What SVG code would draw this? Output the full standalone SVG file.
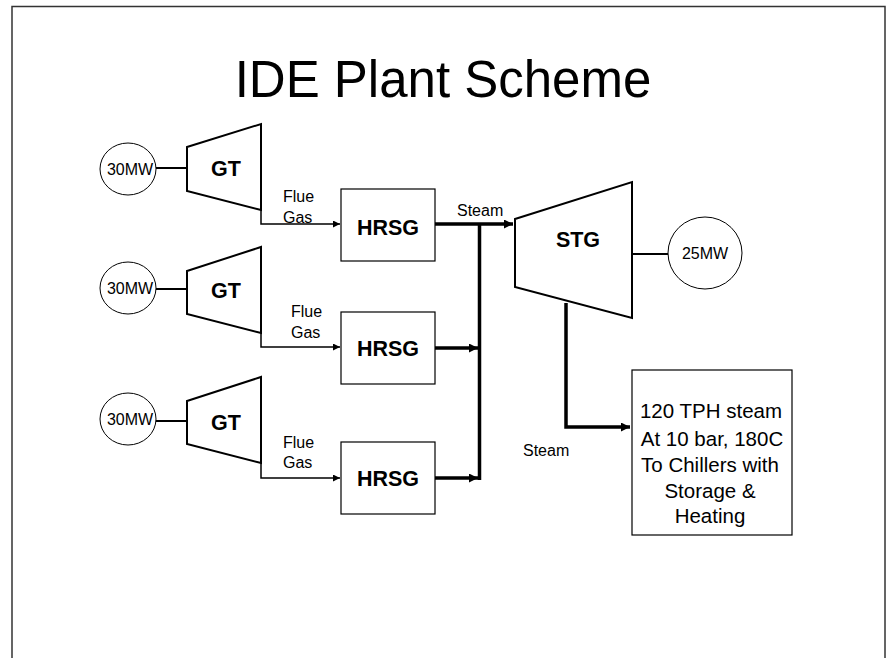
<svg xmlns="http://www.w3.org/2000/svg" width="888" height="658" viewBox="0 0 888 658">
<defs>
<style>
text{font-family:"Liberation Sans",Arial,sans-serif;fill:#000}
.title{font-size:51px;text-anchor:middle}
.bold{font-size:21.5px;font-weight:bold;text-anchor:middle}
.lbl{font-size:16px}
.mw{font-size:16px;text-anchor:middle}
.box{font-size:20.5px;text-anchor:middle}
.gen{fill:#fff;stroke:#000;stroke-width:1}
.turb{fill:#fff;stroke:#000;stroke-width:2}
.rect{fill:#fff;stroke:#000;stroke-width:1.2}
.thin{fill:none;stroke:#000;stroke-width:1.5}
.thick{fill:none;stroke:#000;stroke-width:3.5}
.shaft{fill:none;stroke:#000;stroke-width:2}
</style>
<marker id="ah" viewBox="0 0 10 10" refX="10" refY="5" markerWidth="9" markerHeight="7" markerUnits="userSpaceOnUse" orient="auto"><path d="M0,0L10,5L0,10z" fill="#000"/></marker>
<marker id="ahb" viewBox="0 0 10 10" refX="10" refY="5" markerWidth="10" markerHeight="9" markerUnits="userSpaceOnUse" orient="auto"><path d="M0,0L10,5L0,10z" fill="#000"/></marker>
</defs>
<rect x="12" y="6.5" width="873" height="700" fill="#fff" stroke="#333" stroke-width="1.5"/>
<text class="title" x="443" y="97">IDE Plant Scheme</text>

<g id="connectors">
<line class="shaft" x1="156" y1="168" x2="187" y2="168"/>
<line class="shaft" x1="156" y1="289" x2="187" y2="289"/>
<line class="shaft" x1="156" y1="421" x2="187" y2="421"/>
<polyline class="thin" points="261,210 261,224 340,224" marker-end="url(#ah)"/>
<polyline class="thin" points="261,333 261,347 340,347" marker-end="url(#ah)"/>
<polyline class="thin" points="261,463 261,478 340,478" marker-end="url(#ah)"/>
<line class="thick" x1="435" y1="224" x2="513" y2="224" marker-end="url(#ahb)"/>
<line class="thick" x1="435" y1="348" x2="478" y2="348" marker-end="url(#ahb)"/>
<line class="thick" x1="435" y1="478" x2="478" y2="478" marker-end="url(#ahb)"/>
<line class="thick" x1="479.5" y1="224" x2="479.5" y2="480"/>
<line class="shaft" x1="632" y1="254" x2="668" y2="254"/>
<polyline class="thick" points="566,303 566,427 630,427" marker-end="url(#ahb)"/>
<text class="lbl" x="283" y="202">Flue</text>
<text class="lbl" x="283" y="223">Gas</text>
<text class="lbl" x="291" y="317">Flue</text>
<text class="lbl" x="291" y="338">Gas</text>
<text class="lbl" x="283" y="448">Flue</text>
<text class="lbl" x="283" y="468">Gas</text>
<text class="lbl" x="457" y="216">Steam</text>
<text class="lbl" x="523" y="456">Steam</text>
</g>

<g id="gen1"><ellipse class="gen" cx="128" cy="169" rx="28" ry="26"/><text class="mw" x="130" y="175">30MW</text></g>
<g id="gen2"><ellipse class="gen" cx="128" cy="288" rx="28" ry="26"/><text class="mw" x="130" y="294">30MW</text></g>
<g id="gen3"><ellipse class="gen" cx="128" cy="419" rx="28" ry="26"/><text class="mw" x="130" y="425">30MW</text></g>

<g id="gt1"><polygon class="turb" points="187,147 261,124 261,210 187,191"/><text class="bold" x="226" y="176">GT</text></g>
<g id="gt2"><polygon class="turb" points="187,271 261,247 261,333 187,314"/><text class="bold" x="226" y="298">GT</text></g>
<g id="gt3"><polygon class="turb" points="187,401 261,377 261,463 187,444"/><text class="bold" x="226" y="430">GT</text></g>

<g id="hrsg1"><rect class="rect" x="341" y="189" width="94" height="72"/><text class="bold" x="388" y="235">HRSG</text></g>
<g id="hrsg2"><rect class="rect" x="341" y="312" width="94" height="72"/><text class="bold" x="388" y="356">HRSG</text></g>
<g id="hrsg3"><rect class="rect" x="341" y="442" width="94" height="72"/><text class="bold" x="388" y="486">HRSG</text></g>

<g id="stg"><polygon class="turb" points="515,219 632,182 632,318 515,287"/><text class="bold" x="578" y="247">STG</text></g>
<g id="gen4"><ellipse class="gen" cx="705" cy="253" rx="37" ry="36"/><text class="mw" x="705" y="259">25MW</text></g>

<g id="load"><rect class="rect" x="632" y="370" width="160" height="165"/>
<text class="box" x="711" y="418">120 TPH steam</text>
<text class="box" x="712" y="446">At 10 bar, 180C</text>
<text class="box" x="710" y="472">To Chillers with</text>
<text class="box" x="710" y="498">Storage &amp;</text>
<text class="box" x="710" y="523">Heating</text>
</g>
</svg>
